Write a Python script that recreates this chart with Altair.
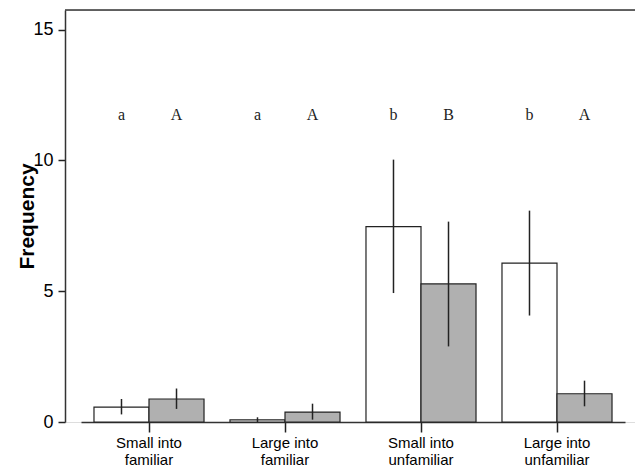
import altair as alt
import pandas as pd

categories = ["Small into familiar", "Large into familiar", "Small into unfamiliar", "Large into unfamiliar"]
series = ["white", "grey"]
white_mean = [0.57, 0.08, 7.47, 6.07]
white_lo = [0.29, 0.0, 4.93, 4.07]
white_hi = [0.88, 0.18, 10.03, 8.08]
grey_mean = [0.88, 0.38, 5.28, 1.08]
grey_lo = [0.50, 0.09, 2.89, 0.60]
grey_hi = [1.28, 0.70, 7.66, 1.58]
white_letters = ["a", "a", "b", "b"]
grey_letters = ["A", "A", "B", "A"]
letter_level = 11.75

rows = []
for i, c in enumerate(categories):
    rows.append(dict(cat=c, s="white", mean=white_mean[i], lo=white_lo[i], hi=white_hi[i], letter=white_letters[i], ly=letter_level))
    rows.append(dict(cat=c, s="grey", mean=grey_mean[i], lo=grey_lo[i], hi=grey_hi[i], letter=grey_letters[i], ly=letter_level))
df = pd.DataFrame(rows)

W, H = 570, 412
xscale = alt.Scale(domain=categories, range=[16, 560], paddingInner=0, paddingOuter=0)
xoff = alt.Scale(domain=series, paddingInner=0, paddingOuter=0.236)
yscale = alt.Scale(domain=[0, 15.75], nice=False, zero=True)

x_enc = alt.X("cat:N", scale=xscale, sort=categories, title=None,
              axis=alt.Axis(labelAngle=0, labelFont="Liberation Sans", labelFontSize=15,
                            labelColor="black", tickSize=10, tickColor="#222", domainColor="#333",
                            domainWidth=1.5, tickWidth=1.5, labelPadding=3, labelBaseline="top",
                            labelLineHeight=17,
                            labelExpr="[substring(datum.label, 0, indexof(datum.label, ' into') + 5), substring(datum.label, indexof(datum.label, ' into') + 6)]"))
xo_enc = alt.XOffset("s:N", scale=xoff, sort=series)
y_axis = alt.Axis(values=[0, 5, 10, 15], grid=False, labelFont="Liberation Sans", labelFontSize=18,
                  labelColor="black", tickSize=7, tickColor="#222", domainColor="#333", domainWidth=1.5,
                  tickWidth=1.5, labelPadding=5, title="Frequency", titleFont="Liberation Sans",
                  titleFontSize=21, titleFontWeight="bold", titleColor="black", titleAngle=270,
                  titleX=-38, titleY=206, titleBaseline="middle", titleAlign="center")

base = alt.Chart(df)
bars = base.mark_bar(stroke="#222", strokeWidth=1.2).encode(
    x=x_enc, xOffset=xo_enc,
    y=alt.Y("mean:Q", scale=yscale, axis=y_axis),
    fill=alt.Fill("s:N", scale=alt.Scale(domain=series, range=["#ffffff", "#b0b0b0"]), legend=None),
)
errs = base.mark_rule(color="#222", strokeWidth=1.5).encode(
    x=x_enc, xOffset=xo_enc,
    y=alt.Y("lo:Q", scale=yscale), y2="hi:Q",
)
letters = base.mark_text(font="Liberation Serif", fontSize=16, color="#222", baseline="middle").encode(
    x=x_enc, xOffset=xo_enc,
    y=alt.Y("ly:Q", scale=yscale), text="letter:N",
)
top = alt.Chart(pd.DataFrame({"a": [0]})).mark_rule(color="#333", strokeWidth=1.5).encode(
    x=alt.value(0), x2=alt.value(W), y=alt.value(0)
)

chart = alt.layer(bars, errs, letters, top).properties(
    width=W, height=H,
    autosize=alt.AutoSizeParams(type="none"),
    padding={"left": 65, "top": 10, "right": 0, "bottom": 47},
).configure_view(stroke=None).configure(background="white")

chart.save("out.html", embed_options={"renderer": "svg", "actions": False})
